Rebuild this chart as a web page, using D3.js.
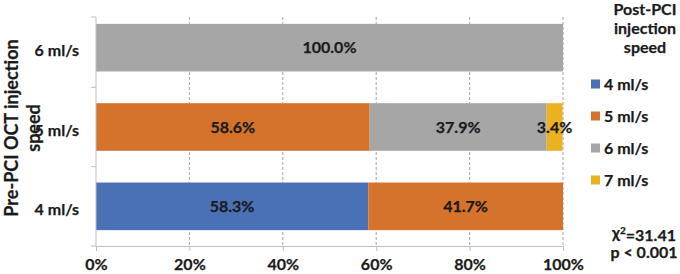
<!DOCTYPE html>
<html>
<head>
<meta charset="utf-8">
<script src="https://cdn.jsdelivr.net/npm/d3@7"></script>
<style>
  body { margin: 0; background: #fff; }
  svg text { font-family: Lato, "Open Sans", sans-serif; font-weight: 700; fill: #1a1a1a; stroke: #1a1a1a; stroke-width: 0.25px; }
</style>
</head>
<body>
<div id="chart"></div>
<script>
// pre-PCI speed (rows) and post-PCI speed (stacked series), in percent
var preSpeeds = ['4 ml/s', '5 ml/s', '6 ml/s'];
var postSpeeds = ['4 ml/s', '5 ml/s', '6 ml/s', '7 ml/s'];
var post4 = [58.3, 0, 0];
var post5 = [41.7, 58.6, 0];
var post6 = [0, 37.9, 100.0];
var post7 = [0, 3.4, 0];
var xTicks = [0, 20, 40, 60, 80, 100];
var colors = ['#4a70b6', '#d5722c', '#a6a6a6', '#ebb220'];

var chart_width = 680;
var chart_height = 274;
var plot_left = 96, plot_right = 563, plot_top = 8, plot_bottom = 246;

var svg = d3
  .select('#chart')
  .append('svg')
  .attr('width', chart_width)
  .attr('height', chart_height);

// build rows for the stack
var rows = preSpeeds.map(function(p, i) {
  return { pre: p, '4 ml/s': post4[i], '5 ml/s': post5[i], '6 ml/s': post6[i], '7 ml/s': post7[i] };
});
var stacked = d3.stack().keys(postSpeeds)(rows);

var x_scale = d3.scaleLinear().domain([0, 100]).range([plot_left, plot_right]);
var y_scale = d3
  .scaleBand()
  .domain(preSpeeds.slice().reverse())
  .range([plot_top, plot_bottom])
  .paddingInner(0.4)
  .paddingOuter(0.2);

// dashed grid
svg
  .selectAll('line.grid')
  .data(xTicks.slice(1))
  .enter()
  .append('line')
  .attr('class', 'grid')
  .attr('x1', function(d) { return x_scale(d); })
  .attr('x2', function(d) { return x_scale(d); })
  .attr('y1', 17)
  .attr('y2', plot_bottom)
  .attr('stroke', '#8c8c8c')
  .attr('stroke-width', 0.8)
  .attr('stroke-dasharray', '3,2');

// bars
var groups = svg
  .selectAll('g.series')
  .data(stacked)
  .enter()
  .append('g')
  .attr('fill', function(d, i) { return colors[i]; });

groups
  .selectAll('rect')
  .data(function(d) { return d; })
  .enter()
  .append('rect')
  .attr('x', function(d) { return x_scale(d[0]); })
  .attr('y', function(d) { return y_scale(d.data.pre); })
  .attr('width', function(d) { return x_scale(d[1]) - x_scale(d[0]); })
  .attr('height', y_scale.bandwidth());

// value labels
groups
  .selectAll('text')
  .data(function(d) { return d.filter(function(s) { return s[1] - s[0] > 0; }); })
  .enter()
  .append('text')
  .attr('x', function(d) { return (x_scale(d[0]) + x_scale(d[1])) / 2; })
  .attr('y', function(d) { return y_scale(d.data.pre) + y_scale.bandwidth() / 2; })
  .attr('dy', '0.36em')
  .attr('text-anchor', 'middle')
  .style('font-size', '16px')
  .text(function(d) { return (d[1] - d[0]).toFixed(1) + '%'; });

// axes
var x_axis = svg
  .append('g')
  .attr('transform', 'translate(0,' + plot_bottom + ')')
  .call(d3.axisBottom(x_scale).tickValues(xTicks).tickSize(5).tickSizeOuter(0).tickPadding(8)
    .tickFormat(function(d) { return d + '%'; }));
x_axis.selectAll('text').style('font-size', '16px').attr('fill', '#1a1a1a');

var y_axis = svg
  .append('g')
  .attr('transform', 'translate(' + plot_left + ',0)')
  .call(d3.axisLeft(y_scale).tickSize(0).tickPadding(17));
y_axis.selectAll('text').style('font-size', '16px').attr('fill', '#1a1a1a').attr('dy', '0.55em');
y_axis.select('.domain').remove();

// y axis line with ticks between categories
svg.append('line')
  .attr('x1', plot_left).attr('x2', plot_left).attr('y1', 17).attr('y2', plot_bottom)
  .attr('stroke', '#bfbfbf');
x_axis.selectAll('path, line').attr('stroke', '#bfbfbf');
svg
  .selectAll('line.ytick')
  .data([17].concat(preSpeeds.slice().reverse().map(function(p) { return y_scale(p) + y_scale.step() * 0.8; })))
  .enter()
  .append('line')
  .attr('x1', plot_left - 5).attr('x2', plot_left)
  .attr('y1', function(d) { return d; })
  .attr('y2', function(d) { return d; })
  .attr('stroke', '#bfbfbf');

// y axis title (wraps onto two lines)
var ytitle = svg.append('text')
  .attr('transform', 'translate(18,128) rotate(-90)')
  .attr('text-anchor', 'middle')
  .style('font-size', '18px');
ytitle.append('tspan').attr('x', 0).attr('dy', 0).text('Pre-PCI OCT injection');
ytitle.append('tspan').attr('x', 0).attr('dy', '1.2em').text('speed');

// legend
var ltitle = ['Post-PCI', 'injection', 'speed'];
svg
  .selectAll('text.ltitle')
  .data(ltitle)
  .enter()
  .append('text')
  .attr('x', 645)
  .attr('y', function(d, i) { return 15 + i * 19; })
  .attr('text-anchor', 'middle')
  .style('font-size', '16px')
  .text(function(d) { return d; });

var legend = svg
  .selectAll('g.legend')
  .data(postSpeeds)
  .enter()
  .append('g')
  .attr('transform', function(d, i) { return 'translate(591,' + (84 + i * 32) + ')'; });
legend.append('rect')
  .attr('x', 0).attr('y', -4.5).attr('width', 9).attr('height', 9)
  .attr('fill', function(d, i) { return colors[i]; });
legend.append('text')
  .attr('x', 13).attr('dy', '0.36em')
  .style('font-size', '16px')
  .text(function(d) { return d; });

// chi-square note
var chi = svg.append('text').attr('x', 644).attr('y', 238).attr('text-anchor', 'middle').style('font-size', '16px');
chi.append('tspan').text('\u03c7');
chi.append('tspan').attr('dy', '-0.45em').style('font-size', '10px').text('2');
chi.append('tspan').attr('dy', '0.45em').text('=31.41');
svg.append('text').attr('x', 644).attr('y', 258).attr('text-anchor', 'middle').style('font-size', '16px').text('p < 0.001');
</script>
</body>
</html>
